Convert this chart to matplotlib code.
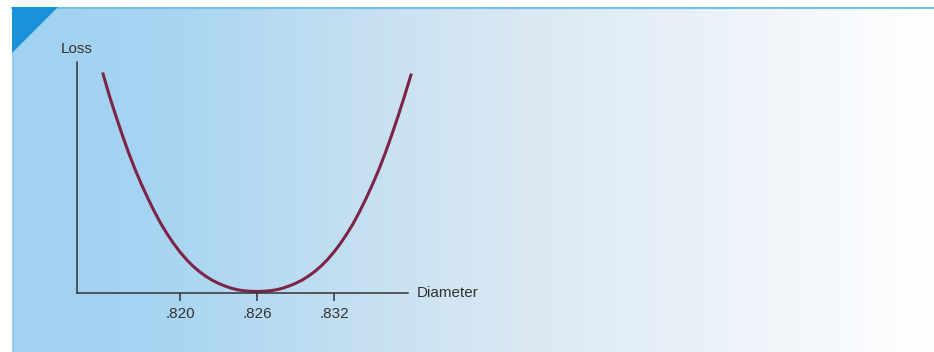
import numpy as np
from matplotlib import pyplot as plt
from matplotlib.colors import LinearSegmentedColormap
from matplotlib.patches import Polygon

# loss curve (diameter, loss in arbitrary units)
diameter = [0.8140, 0.8145, 0.8150, 0.8155, 0.8160, 0.8165, 0.8170, 0.8175,
            0.8180, 0.8185, 0.8190, 0.8195, 0.8200, 0.8205, 0.8210, 0.8215,
            0.8220, 0.8225, 0.8230, 0.8235, 0.8240, 0.8245, 0.8250, 0.8255,
            0.8260,
            0.8265, 0.8270, 0.8275, 0.8280, 0.8285, 0.8290, 0.8295, 0.8300,
            0.8305, 0.8310, 0.8315, 0.8320, 0.8325, 0.8330, 0.8335, 0.8340,
            0.8345, 0.8350, 0.8355, 0.8360, 0.8365, 0.8370, 0.8375, 0.8380]
loss = [219, 197, 177, 158, 140, 123.5, 108.5, 94.5,
        81.5, 69.5, 59, 49.5, 41, 33.5, 27, 21.5,
        16.8, 12.8, 9.6, 7.0, 4.8, 3.2, 2.2, 1.7,
        1.5,
        1.7, 2.2, 3.2, 4.8, 7.0, 9.6, 12.8, 16.8,
        21.5, 27, 33.5, 41, 49.5, 59, 69.5, 81.5,
        94.5, 108.5, 123.5, 140, 158, 177, 197, 218]
tick_values = [0.820, 0.826, 0.832]
tick_labels = ['.820', '.826', '.832']

plt.rcParams['font.family'] = ['Liberation Sans', 'DejaVu Sans']

W, H = 934, 352
fig = plt.figure(figsize=(W / 100, H / 100), dpi=100)

# background panel with gradient
bg = fig.add_axes([0, 0, 1, 1])
bg.set_xlim(0, W)
bg.set_ylim(H, 0)
bg.axis('off')
cmap = LinearSegmentedColormap.from_list(
    'panel', [(0.0, '#a2d2f1'), (0.15, '#a6d4f1'), (0.5, '#d5e6f2'),
              (0.8, '#eef4fa'), (1.0, '#ffffff')])
grad = np.linspace(0, 1, 512).reshape(1, -1)
bg.imshow(grad, cmap=cmap, aspect='auto', extent=[12, W, H, 8], zorder=0)
bg.plot([12, W], [7.5, 7.5], color='#78c2ea', lw=1.6, zorder=1)
bg.plot([12.5, 12.5], [7, H], color='#8ccbef', lw=0.8, zorder=1)
bg.add_patch(Polygon([(12, 7), (58, 7), (12, 53)], closed=True,
                     color='#1892d8', lw=0, zorder=2))

# main axes
ax = fig.add_axes([77 / W, (H - 293) / H, 331 / W, 231 / H])
ax.patch.set_alpha(0)
ax.plot(diameter, loss, color='#7d2447', lw=2.2, clip_on=False,
        solid_joinstyle='round')
ax.set_xlim(0.81197, 0.83777)
ax.set_ylim(0, 231)
for s in ['top', 'right']:
    ax.spines[s].set_visible(False)
for s in ['left', 'bottom']:
    ax.spines[s].set_color('#333333')
    ax.spines[s].set_linewidth(1.1)
ax.set_yticks([])
ax.set_xticks(tick_values)
ax.set_xticklabels(tick_labels)
ax.tick_params(axis='x', length=6, width=1.1, color='#333333',
               labelsize=11, labelcolor='#333333', pad=4)

ax.text(0, 1.0 + 13 / 231, 'Loss', transform=ax.transAxes, ha='center',
        va='center', fontsize=11, color='#333333')
ax.text(1.0 + 9 / 331, 0, 'Diameter', transform=ax.transAxes, ha='left',
        va='center', fontsize=11, color='#333333')

fig.savefig('out.png', dpi=100)
